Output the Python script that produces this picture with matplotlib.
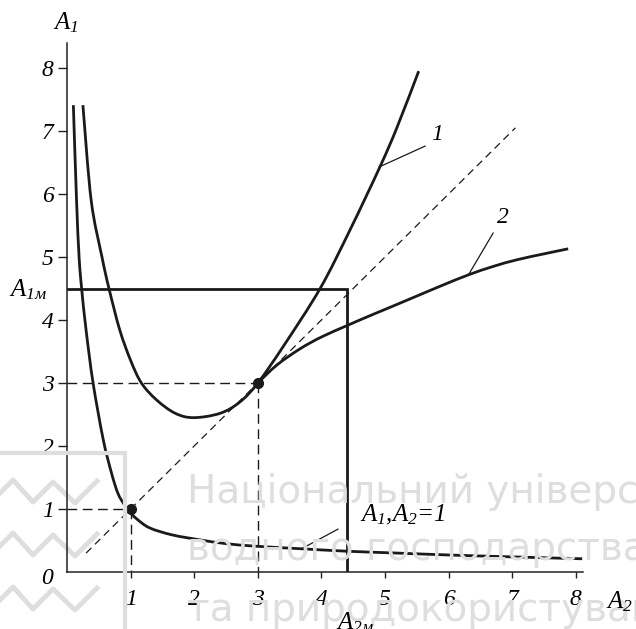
import numpy as np
import matplotlib
matplotlib.use('Agg')
import matplotlib.pyplot as plt
from matplotlib.path import Path
from matplotlib.patches import PathPatch

plt.rcParams['mathtext.fontset'] = 'custom'
plt.rcParams['mathtext.rm'] = 'Liberation Serif:italic'
plt.rcParams['mathtext.it'] = 'Liberation Serif:italic'
plt.rcParams['font.family'] = ['Liberation Serif', 'DejaVu Serif']

# --- values ---
# curve A1*A2 = 1
hyp_x = [0.10, 0.15, 0.19, 0.23, 0.30, 0.41, 0.57, 0.70, 0.80, 0.90, 0.97,
         1.10, 1.30, 1.65, 2.09, 2.50, 2.96, 3.66, 4.40, 5.20, 6.00, 7.00, 8.10]
hyp_y = [7.41, 5.90, 5.00, 4.50, 3.84, 3.00, 2.10, 1.57, 1.25, 1.07, 0.97,
         0.84, 0.70, 0.59, 0.51, 0.45, 0.41, 0.37, 0.33, 0.30, 0.27, 0.24, 0.21]
# curve 1
c1_x = [0.25, 0.38, 0.55, 0.66, 0.83, 1.00, 1.17, 1.41, 1.70, 1.99,
        2.41, 2.72, 3.0, 3.40, 3.98, 4.45, 4.92, 5.19, 5.53]
c1_y = [7.41, 5.90, 5.00, 4.50, 3.84, 3.36, 3.00, 2.73, 2.52, 2.45,
        2.52, 2.70, 3.0, 3.58, 4.50, 5.43, 6.43, 7.06, 7.95]
# curve 2
c2_x = [3.0, 3.30, 3.66, 4.00, 4.40, 4.72, 5.10, 5.50, 5.90, 6.32, 6.70, 7.07, 7.50, 7.88]
c2_y = [3.0, 3.285, 3.54, 3.73, 3.91, 4.05, 4.21, 4.38, 4.55, 4.72, 4.85, 4.955, 5.05, 5.13]
# diagonal A1 = A2
diag = [0.30, 7.05]
# operating points
pts_x = [1.0, 3.0]
pts_y = [1.0, 3.0]
A1m = 4.5
A2m = 4.4
ticks = [1, 2, 3, 4, 5, 6, 7, 8]

fig = plt.figure(figsize=(6.36, 6.29), dpi=100)
W, H = 636.0, 629.0

def fx(px):
    return px / W

def fy(py):
    return 1 - py / H

def smooth_curve(ax, xs, ys, **kw):
    # Catmull-Rom through the read points, drawn as cubic Bezier segments
    p = np.column_stack([xs, ys]).astype(float)
    p = np.vstack([p[0], p, p[-1]])
    verts = [tuple(p[1])]
    codes = [Path.MOVETO]
    for i in range(1, len(p) - 2):
        c1 = p[i] + (p[i + 1] - p[i - 1]) / 6.0
        c2 = p[i + 1] - (p[i + 2] - p[i]) / 6.0
        verts += [tuple(c1), tuple(c2), tuple(p[i + 1])]
        codes += [Path.CURVE4] * 3
    ax.add_patch(PathPatch(Path(verts, codes), fill=False, capstyle='butt', **kw))

# faint watermark (background)
wm = '#dedede'
fig.patches.append(plt.Rectangle((fx(-5), fy(640)), fx(130), fy(453) - fy(640),
                                 transform=fig.transFigure, fill=False,
                                 edgecolor=wm, lw=3, zorder=0))
zz_x = [0, 13, 33, 53, 75, 97]
zz_y = [493, 480, 502, 482, 503, 481]
for off in [0, 53, 107]:
    fig.add_artist(plt.Line2D([fx(v) for v in zz_x], [fy(v + off) for v in zz_y],
                              transform=fig.transFigure, color=wm, lw=3.5, zorder=0))
for txt, px, py in [('Національний університет', 187, 503),
                    ('водного господарства', 187, 560),
                    ('та природокористування', 187, 621)]:
    fig.text(fx(px), fy(py), txt, family='DejaVu Sans', fontsize=28, color=wm,
             ha='left', va='baseline', zorder=0)

ax = fig.add_axes([67 / W, (H - 572) / H, 8.12 * 63.6 / W, 8.4 * 63 / H])
ax.patch.set_alpha(0)
ax.set_xlim(0, 8.12)
ax.set_ylim(0, 8.4)
for s in ['top', 'right']:
    ax.spines[s].set_visible(False)
for s in ['left', 'bottom']:
    ax.spines[s].set_linewidth(1.1)
    ax.spines[s].set_color('#222222')

ax.set_xticks(ticks)
ax.set_yticks(ticks)
ax.set_xticklabels([str(t) for t in ticks], fontstyle='italic', fontsize=17)
ax.set_yticklabels([str(t) for t in ticks], fontstyle='italic', fontsize=17)
ax.tick_params(axis='x', length=4.5, width=1.0, pad=8, color='#222222')
ax.tick_params(axis='y', length=6.5, width=1.0, pad=3, color='#222222')

k = '#1a1a1a'
# dashed guides
ax.plot([0, pts_x[0]], [pts_y[0], pts_y[0]], ls=(0, (7, 4)), color=k, lw=1.0)
ax.plot([pts_x[0], pts_x[0]], [pts_y[0], 0], ls=(0, (7, 4)), color=k, lw=1.0)
ax.plot([0, pts_x[1]], [pts_y[1], pts_y[1]], ls=(0, (7, 4)), color=k, lw=1.0)
ax.plot([pts_x[1], pts_x[1]], [pts_y[1], 0], ls=(0, (7, 4)), color=k, lw=1.0)
ax.plot(diag, diag, ls=(0, (6, 4)), color=k, lw=0.9)

# A1m / A2m box
ax.plot([0, A2m, A2m], [A1m, A1m, 0], color=k, lw=2.0, solid_joinstyle='miter')

# curves
smooth_curve(ax, hyp_x, hyp_y, color=k, lw=2.0)
smooth_curve(ax, c1_x, c1_y, color=k, lw=2.0)
smooth_curve(ax, c2_x, c2_y, color=k, lw=2.0)
ax.plot(pts_x, pts_y, 'o', color=k, ms=7, zorder=5)

# leaders and curve labels
ax.plot([4.91, 5.63], [6.43, 6.76], color=k, lw=0.9)
ax.text(5.82, 6.94, '1', fontstyle='italic', fontsize=17, ha='center', va='center')
ax.plot([6.32, 6.70], [4.73, 5.38], color=k, lw=0.9)
ax.text(6.86, 5.62, '2', fontstyle='italic', fontsize=17, ha='center', va='center')
ax.plot([3.69, 4.26], [0.37, 0.68], color=k, lw=0.9)
ax.text(4.60, 0.90, r'$A_1$,$A_2$=1', fontstyle='italic', fontsize=18,
        ha='left', va='center')

# axis names
fig.text(fx(53), fy(29), r'$A_1$', fontsize=18, ha='left', va='baseline')
fig.text(fx(606), fy(608), r'$A_2$', fontsize=18, ha='left', va='baseline')
fig.text(fx(9), fy(296), r'$A_{1м}$', fontsize=18, ha='left', va='baseline')
fig.text(fx(336), fy(629), r'$A_{2м}$', fontsize=18, ha='left', va='baseline')
fig.text(fx(47), fy(578), '0', fontstyle='italic', fontsize=17, ha='center', va='center')

fig.savefig('out.png', dpi=100)
